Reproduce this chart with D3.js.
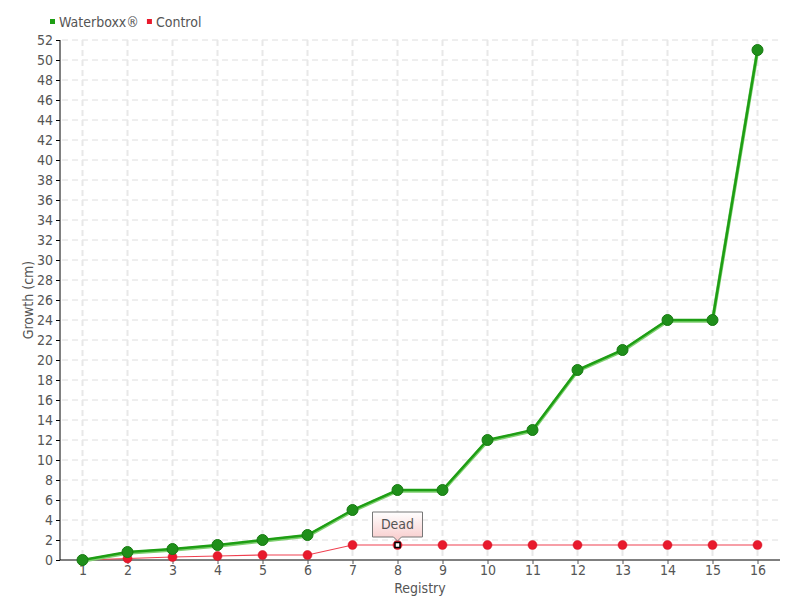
<!DOCTYPE html>
<html><head><meta charset="utf-8">
<script src="https://cdn.jsdelivr.net/npm/d3@7/dist/d3.min.js"></script>
<style>body{margin:0;background:#fff}svg{display:block}text{font-family:"Liberation Sans Narrow","DejaVu Sans Condensed",sans-serif;fill:#555}</style>
</head><body><svg id="c" width="800" height="600"></svg>
<script>
const registry = [1,2,3,4,5,6,7,8,9,10,11,12,13,14,15,16];
const waterboxx = [0,0.8,1.1,1.5,2,2.5,5,7,7,12,13,19,21,24,24,51];
const control = [0,0.15,0.3,0.4,0.5,0.5,1.5,1.5,1.5,1.5,1.5,1.5,1.5,1.5,1.5,1.5];
const yTicks = d3.range(0,53,2);
const seriesNames = ["Waterboxx®","Control"];
const annotation = {index:7, text:"Dead"};

const svg = d3.select("#c");
const L=60,R=780,T=40,B=560;
const x = d3.scaleLinear().domain([0.5,16.5]).range([L,R]);
const y = d3.scaleLinear().domain([0,52]).range([B,T]);

// grid
svg.append("g").selectAll("line").data(yTicks.slice(1)).join("line")
  .attr("x1",L+2).attr("x2",R).attr("y1",d=>y(d)).attr("y2",d=>y(d))
  .attr("stroke","#dedede").attr("stroke-dasharray","6,4").attr("stroke-width",1);
svg.append("g").selectAll("line").data(registry).join("line")
  .attr("x1",d=>x(d)).attr("x2",d=>x(d)).attr("y1",T).attr("y2",B)
  .attr("stroke","#e8e8e8").attr("stroke-dasharray","6,4").attr("stroke-width",2);

// axes
const ya = svg.append("g").attr("transform",`translate(${L},0)`)
  .call(d3.axisLeft(y).tickValues(yTicks).tickSize(4).tickPadding(3));
ya.select(".domain").attr("stroke","#000").attr("d",`M0,${T}H0V${B}`);
ya.selectAll(".tick line").attr("stroke","#000");
ya.selectAll("text").attr("font-size",14).attr("fill","#555");
const xa = svg.append("g").attr("transform",`translate(0,${B})`)
  .call(d3.axisBottom(x).tickValues(registry).tickSize(4).tickPadding(1).tickFormat(d3.format("d")));
xa.select(".domain").attr("stroke","#000").attr("d",`M${L},0H${R}`);
xa.selectAll(".tick line").attr("stroke","#555");
xa.selectAll("text").attr("font-size",14).attr("fill","#555");

svg.append("text").attr("x",(L+R)/2).attr("y",593).attr("text-anchor","middle").attr("font-size",14).text("Registry");
svg.append("text").attr("transform",`translate(33,300) rotate(-90)`).attr("text-anchor","middle").attr("font-size",14).text("Growth (cm)");

// lines
const line = d3.line().x((d,i)=>x(registry[i])).y(d=>y(d));
svg.append("path").datum(control).attr("d",line).attr("fill","none").attr("stroke","#f04050").attr("stroke-width",1.2);
svg.append("path").datum(waterboxx).attr("d",line).attr("fill","none").attr("stroke","#7fd070").attr("stroke-width",3.5).attr("transform","translate(0,1)");
svg.append("path").datum(waterboxx).attr("d",line).attr("fill","none").attr("stroke","#1e9e14").attr("stroke-width",2.5);

svg.append("g").selectAll("circle").data(control).join("circle")
  .attr("cx",(d,i)=>x(registry[i])).attr("cy",d=>y(d)).attr("r",4.5)
  .attr("fill","#e8192c").attr("stroke","#d01020").attr("stroke-width",0.5);
svg.append("g").selectAll("circle").data(waterboxx).join("circle")
  .attr("cx",(d,i)=>x(registry[i])).attr("cy",d=>y(d)).attr("r",5.5)
  .attr("fill","#1f8f1a").attr("stroke","#177a12").attr("stroke-width",1);

// annotation
const ax = x(registry[annotation.index]), ay = y(control[annotation.index]);
svg.append("rect").attr("x",ax-2.5).attr("y",ay-2.5).attr("width",5).attr("height",5)
  .attr("fill","#fff").attr("stroke","#000").attr("stroke-width",1.5);
const defs = svg.append("defs");
const gr = defs.append("linearGradient").attr("id","pg").attr("x1",0).attr("x2",0).attr("y1",0).attr("y2",1);
gr.append("stop").attr("offset",0).attr("stop-color","#ffffff");
gr.append("stop").attr("offset",1).attr("stop-color","#f8caca");
const bw=50,bh=25,bx=ax-25,by=ay-33;
svg.append("path").attr("d",`M${bx},${by}H${bx+bw}V${by+bh}H${ax+4}L${ax},${by+bh+4}L${ax-4},${by+bh}H${bx}Z`)
  .attr("fill","url(#pg)").attr("stroke","#777").attr("stroke-width",1);
svg.append("text").attr("x",ax).attr("y",by+17).attr("text-anchor","middle").attr("font-size",14).text(annotation.text);

// legend
const lg = svg.append("g");
const lc=["#1e9e14","#e8192c"];
let cx0 = 50;
seriesNames.forEach((n,i)=>{
  lg.append("rect").attr("x",cx0).attr("y",19).attr("width",5).attr("height",5).attr("fill",lc[i]);
  const t = lg.append("text").attr("x",cx0+9).attr("y",27).attr("font-size",14).text(n);
  cx0 += 9 + t.node().getComputedTextLength() + 8;
});
</script></body></html>
